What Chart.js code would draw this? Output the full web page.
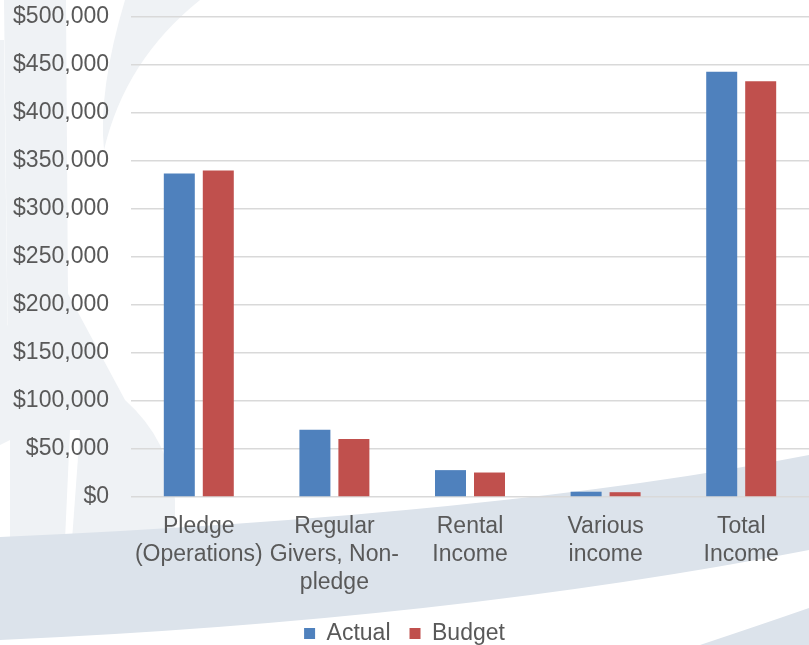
<!DOCTYPE html>
<html>
<head>
<meta charset="utf-8">
<script src="https://cdn.jsdelivr.net/npm/chart.js@4/dist/chart.umd.min.js"></script>
<style>
  html, body { margin: 0; padding: 0; background: #fff; }
  #wrap { width: 809px; height: 645px; position: relative; }
</style>
</head>
<body>
<div id="wrap"><canvas id="incomeChart" width="809" height="645"></canvas></div>
<script>
const categories = [
    ['Pledge', '(Operations)'],
    ['Regular', 'Givers, Non-', 'pledge'],
    ['Rental', 'Income'],
    ['Various', 'income'],
    ['Total', 'Income']
];
const actualValues = [337000, 70000, 28000, 5500, 443000];
const budgetValues = [340000, 60500, 25500, 5000, 433000];
const seriesNames = ['Actual', 'Budget'];

/* ---------- BACKGROUND SWOOSH ---------- */
const swooshPlugin = {
    id: 'swoosh',
    beforeDraw(chart) {
        const ctx = chart.ctx;
        ctx.save();
        ctx.fillStyle = '#ffffff';
        ctx.fillRect(0, 0, chart.width, chart.height);

        // pale shapes on the left
        ctx.fillStyle = '#eff2f5';
        ctx.beginPath();
        ctx.moveTo(4, 0); ctx.lineTo(66, 0); ctx.lineTo(68, 300); ctx.lineTo(60, 540); ctx.lineTo(10, 540);
        ctx.closePath(); ctx.fill();
        ctx.beginPath();
        ctx.moveTo(0, 40); ctx.lineTo(4, 40); ctx.lineTo(10, 540); ctx.lineTo(0, 540);
        ctx.closePath(); ctx.fill();
        ctx.beginPath();
        ctx.moveTo(125, 0); ctx.lineTo(200, 0);
        ctx.quadraticCurveTo(125, 60, 104, 150);
        ctx.quadraticCurveTo(98, 90, 125, 0);
        ctx.closePath(); ctx.fill();
        ctx.beginPath();
        ctx.moveTo(0, 330); ctx.lineTo(66, 290); ctx.lineTo(125, 400);
        ctx.quadraticCurveTo(170, 440, 175, 500);
        ctx.lineTo(175, 540); ctx.lineTo(0, 540);
        ctx.closePath(); ctx.fill();
        ctx.fillStyle = '#ffffff';
        ctx.beginPath();
        ctx.moveTo(0, 445); ctx.lineTo(10, 440); ctx.lineTo(10, 540); ctx.lineTo(0, 540);
        ctx.closePath(); ctx.fill();
        ctx.beginPath();
        ctx.moveTo(70, 430); ctx.lineTo(80, 430); ctx.lineTo(72, 540); ctx.lineTo(65, 540);
        ctx.closePath(); ctx.fill();

        // main band
        ctx.fillStyle = '#dce3eb';
        ctx.beginPath();
        ctx.moveTo(0, 537);
        ctx.quadraticCurveTo(500, 515, 809, 455);
        ctx.lineTo(809, 550);
        ctx.quadraticCurveTo(450, 620, 0, 640);
        ctx.closePath(); ctx.fill();

        // corner stripe
        ctx.beginPath();
        ctx.moveTo(700, 645);
        ctx.quadraticCurveTo(760, 625, 809, 608);
        ctx.lineTo(809, 645);
        ctx.closePath(); ctx.fill();
        ctx.restore();
    }
};

const ink = '#595959';
const font = { family: '"Liberation Sans", Arial, sans-serif', size: 23, lineHeight: 1.22 };

new Chart(document.getElementById('incomeChart'), {
    type: 'bar',
    plugins: [swooshPlugin],
    data: {
        labels: categories,
        datasets: [
            { label: seriesNames[0], data: actualValues, backgroundColor: '#4f81bd' },
            { label: seriesNames[1], data: budgetValues, backgroundColor: '#c0504d' }
        ]
    },
    options: {
        responsive: false,
        animation: false,
        events: [],
        layout: { padding: { top: 17, right: 0, bottom: -10, left: 0 } },
        datasets: { bar: { categoryPercentage: 0.575, barPercentage: 0.795 } },
        scales: {
            x: {
                grid: { display: false },
                border: { display: false },
                ticks: { color: ink, font: font, maxRotation: 0, autoSkip: false, padding: 8 },
                afterFit(scale) { scale.height = 106; }
            },
            y: {
                min: 0,
                max: 500000,
                border: { display: false },
                grid: { color: '#d9d9d9', lineWidth: 1.5, drawTicks: false },
                ticks: {
                    stepSize: 50000,
                    color: ink,
                    font: font,
                    padding: 22,
                    callback: v => '$' + v.toLocaleString('en-US')
                },
                afterFit(scale) {
                    scale.width = 131;
                    scale.paddingTop = 0;
                    scale.paddingBottom = 0;
                }
            }
        },
        plugins: {
            legend: {
                position: 'bottom',
                labels: {
                    color: ink,
                    font: font,
                    boxWidth: 11,
                    boxHeight: 11,
                    padding: 19,
                    useBorderRadius: false
                }
            },
            tooltip: { enabled: false }
        }
    }
});
</script>
</body>
</html>
